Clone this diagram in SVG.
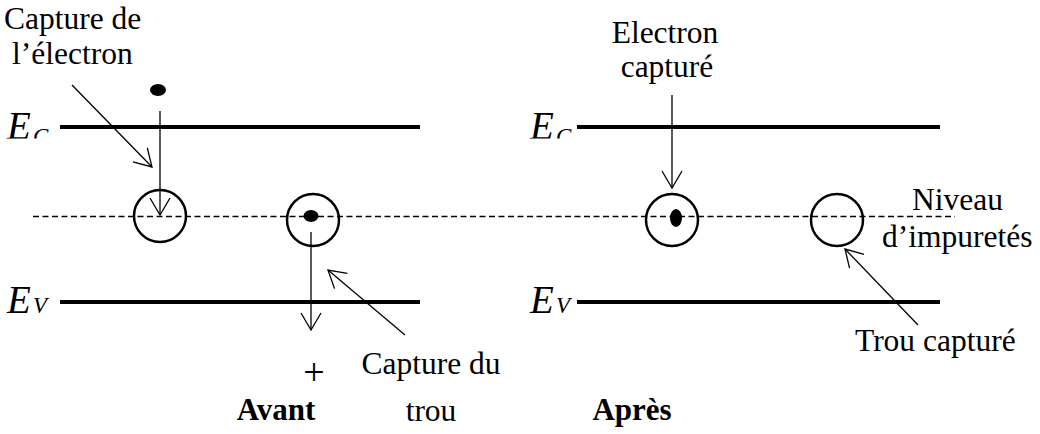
<svg xmlns="http://www.w3.org/2000/svg" width="1040" height="434" viewBox="0 0 1040 434">
<style>
text{font-family:"Liberation Serif","Times New Roman",serif;fill:#000}
.t{font-size:31.5px}
.b{font-size:31px;font-weight:bold}
.p{font-size:38px}
.e{font-size:39px;font-style:italic}
.s{font-size:23px;font-style:italic}
.band{stroke:#000;stroke-width:4;fill:none}
.lvl{stroke:#000;stroke-width:1.3;stroke-dasharray:6 3.5;fill:none}
.c{stroke:#000;stroke-width:2.5;fill:none}
.a{stroke:#000;stroke-width:1.3;fill:none;marker-end:url(#ah)}
</style>
<defs>
<marker id="ah" viewBox="-20 -12 22 24" refX="0" refY="0" markerWidth="22" markerHeight="24" markerUnits="userSpaceOnUse" orient="auto">
<path d="M-17,-10 L0,0 L-17,10" fill="none" stroke="#000" stroke-width="1.3"/>
</marker>
<clipPath id="clipEC"><rect x="0" y="0" width="1040" height="138.5"/></clipPath>
</defs>
<g id="bands">
<line class="band" x1="60" y1="127" x2="420" y2="127"/>
<line class="band" x1="577" y1="127" x2="940" y2="127"/>
<line class="band" x1="60" y1="302" x2="420" y2="302"/>
<line class="band" x1="577" y1="302" x2="940" y2="302"/>
<line class="lvl" x1="33" y1="216.5" x2="955" y2="216.5"/>
</g>
<g id="labels-E">
<g clip-path="url(#clipEC)">
<text class="e" x="7" y="139">E</text><text class="s" x="33" y="144">C</text>
<text class="e" x="530" y="139">E</text><text class="s" x="556" y="144">C</text>
</g>
<text class="e" x="7" y="313">E</text><text class="s" x="33" y="313">V</text>
<text class="e" x="530" y="313">E</text><text class="s" x="556" y="313">V</text>
</g>
<g id="node-c1"><circle class="c" cx="160" cy="216" r="26"/></g>
<g id="node-e1"><ellipse cx="158" cy="90" rx="8" ry="6" fill="#000"/></g>
<g id="node-c2"><circle class="c" cx="313" cy="220" r="26"/><ellipse cx="311" cy="216" rx="7.5" ry="6" fill="#000"/></g>
<g id="node-c3"><circle class="c" cx="672" cy="220" r="26"/><ellipse cx="676" cy="218" rx="6" ry="9" fill="#000"/></g>
<g id="node-c4"><circle class="c" cx="837" cy="220" r="26"/></g>
<g id="connectors">
<line class="a" x1="160" y1="111" x2="160" y2="215"/>
<line class="a" x1="72" y1="85" x2="152" y2="167"/>
<line class="a" x1="311" y1="232" x2="311" y2="330"/>
<line class="a" x1="405" y1="335" x2="328" y2="270"/>
<line class="a" x1="672" y1="95" x2="672" y2="188"/>
<line class="a" x1="918" y1="325" x2="845" y2="249"/>
</g>
<g id="texts">
<text class="t" x="4" y="29">Capture de</text>
<text class="t" x="12" y="64">l’électron</text>
<text class="p" x="314" y="385" text-anchor="middle">+</text>
<text class="t" x="431" y="374" text-anchor="middle">Capture du</text>
<text class="t" x="431" y="421" text-anchor="middle">trou</text>
<text class="b" x="276" y="420" text-anchor="middle">Avant</text>
<text class="b" x="632" y="420" text-anchor="middle">Après</text>
<text class="t" x="665" y="43" text-anchor="middle">Electron</text>
<text class="t" x="667" y="77" text-anchor="middle">capturé</text>
<text class="t" x="912" y="210">Niveau</text>
<text class="t" x="882" y="247">d’impuretés</text>
<text class="t" x="855" y="351">Trou capturé</text>
</g>
</svg>
